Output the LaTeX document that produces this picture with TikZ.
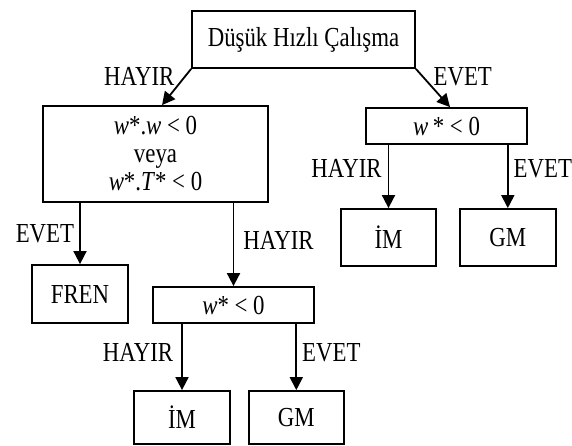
\documentclass[tikz,border=0pt]{standalone}
\usepackage{fontspec}
\setmainfont{Liberation Serif}[FakeStretch=0.83]
\usetikzlibrary{arrows.meta,positioning,calc}

\begin{document}
\begin{tikzpicture}[
  x=1pt,y=1pt,
  node distance=20pt and 20pt,
  every node/.style={font=\fontsize{27.5}{28}\selectfont,align=center},
  box/.style={draw,line width=1.8pt,inner sep=0pt},
  lbl/.style={inner sep=1pt},
  arr/.style={-{Triangle[length=13pt,width=13pt]},line width=1.8pt}
]
\useasboundingbox (0,0) rectangle (572,-445);
\node[box,minimum width=223pt,minimum height=57pt] (start) at (303.5,-39.5) {Düşük Hızlı Çalışma};
\node[box,minimum width=225pt,minimum height=96pt] (cond) at (155.5,-154)
  {\textit{w}*.\textit{w} < 0\\veya\\\textit{w}*.\textit{T}* < 0};
\node[box,minimum width=161pt,minimum height=36pt] (rcond) at (446.5,-126) {\textit{w}\,* < 0};
\node[box,minimum width=96pt,minimum height=58pt] (fren) at (80,-294) {FREN};
\node[box,minimum width=161pt,minimum height=36pt] (mcond) at (233.5,-305) {\textit{w}* < 0};
\node[box,minimum width=95pt,minimum height=57pt] (rim) at (388.5,-237.5) {İM};
\node[box,minimum width=96pt,minimum height=57pt,right=22pt of rim] (rgm) {GM};
\node[box,minimum width=96pt,minimum height=53pt] (mim) at (182,-417.5) {İM};
\node[box,minimum width=95pt,minimum height=53pt,right=17pt of mim] (mgm) {GM};
% ana dallar
\draw[arr] (start.south west) -- node[lbl,pos=0.2,left=9pt]{HAYIR} ($(cond.north)+(6.5,0)$);
\draw[arr] (start.south east) -- node[lbl,pos=0.2,right=9pt]{EVET} ($(rcond.north)+(3.5,0)$);
% sol kosul
\draw[arr] (cond.south -| fren.north) -- node[lbl,left=4pt]{EVET} (fren.north);
\draw[arr] (cond.south -| mcond.north) -- node[lbl,pos=0.45,right=8pt]{HAYIR} (mcond.north);
% sag kosul
\draw[arr] (rcond.south -| rim.north) -- node[lbl,pos=0.37,left=5pt]{HAYIR} (rim.north);
\draw[arr] (rcond.south -| rgm.north) -- node[lbl,pos=0.37,right=4pt]{EVET} (rgm.north);
% alt kosul
\draw[arr] (mcond.south -| mim.north) -- node[lbl,pos=0.43,left=7pt]{HAYIR} (mim.north);
\draw[arr] (mcond.south -| mgm.north) -- node[lbl,pos=0.43,right=4pt]{EVET} (mgm.north);
\end{tikzpicture}
\end{document}
